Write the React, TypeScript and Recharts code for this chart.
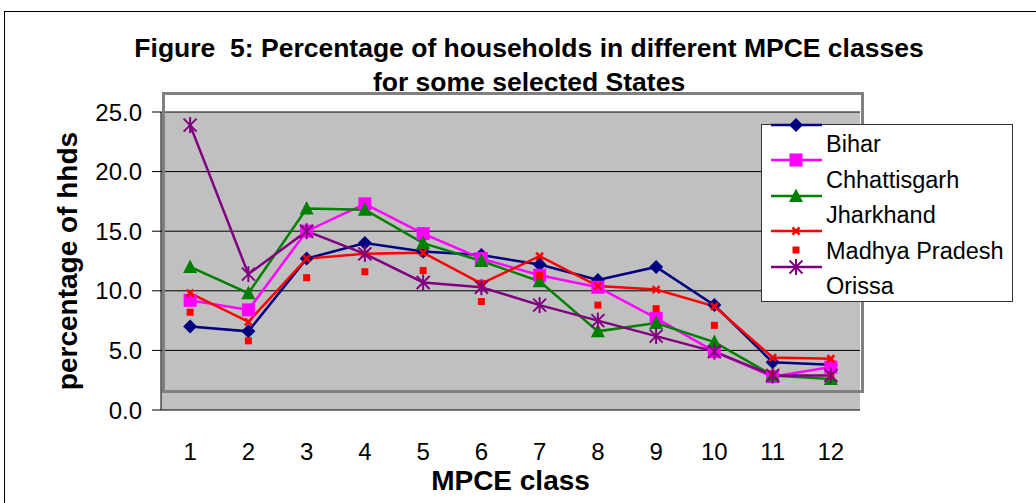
import React from 'react';
import {
  LineChart,
  Line,
  XAxis,
  YAxis,
  CartesianGrid,
  Legend,
} from 'recharts';

const classes = [1, 2, 3, 4, 5, 6, 7, 8, 9, 10, 11, 12];
const bihar = [7.0, 6.6, 12.7, 14.0, 13.3, 13.0, 12.2, 10.9, 12.0, 8.8, 4.0, 3.8];
const chhattisgarh = [9.2, 8.4, 15.0, 17.3, 14.8, 12.7, 11.3, 10.3, 7.7, 4.9, 2.8, 3.6];
const jharkhand = [12.0, 9.8, 16.9, 16.8, 14.0, 12.5, 10.8, 6.6, 7.3, 5.7, 2.9, 2.6];
const redLine = [9.8, 7.4, 12.7, 13.1, 13.2, 10.6, 12.9, 10.4, 10.1, 8.7, 4.4, 4.3];
const madhyaPradesh = [8.2, 5.8, 11.1, 11.6, 11.7, 9.1, 11.3, 8.8, 8.5, 7.1, 2.9, 2.9];
const orissa = [23.9, 11.4, 15.0, 13.1, 10.7, 10.3, 8.8, 7.5, 6.2, 4.9, 2.9, 2.9];
const yTicks = [0, 5, 10, 15, 20, 25];
const boundaryTicks = [0.5, 1.5, 2.5, 3.5, 4.5, 5.5, 6.5, 7.5, 8.5, 9.5, 10.5, 11.5, 12.5];
const legendLabels = ['Bihar', 'Chhattisgarh', 'Jharkhand', 'Madhya Pradesh', 'Orissa'];

const data = classes.map((c, i) => ({
  cls: c,
  bihar: bihar[i],
  chhattisgarh: chhattisgarh[i],
  jharkhand: jharkhand[i],
  redLine: redLine[i],
  madhyaPradesh: madhyaPradesh[i],
  orissa: orissa[i],
}));

const FONT = "'Liberation Sans', Arial, sans-serif";

type Shape = 'diamond' | 'square' | 'triangle' | 'cross' | 'dot' | 'asterisk';

function marker(shape: Shape, color: string, cx: number, cy: number, key?: string | number) {
  switch (shape) {
    case 'diamond':
      return (
        <path key={key} d={`M${cx},${cy - 7}L${cx + 7},${cy}L${cx},${cy + 7}L${cx - 7},${cy}Z`} fill={color} />
      );
    case 'square':
      return <rect key={key} x={cx - 6.5} y={cy - 6.5} width={13} height={13} fill={color} />;
    case 'triangle':
      return (
        <path key={key} d={`M${cx},${cy - 7.5}L${cx + 7},${cy + 6}L${cx - 7},${cy + 6}Z`} fill={color} />
      );
    case 'cross':
      return (
        <g key={key} stroke={color} strokeWidth={2.5}>
          <line x1={cx - 3.5} y1={cy - 3.5} x2={cx + 3.5} y2={cy + 3.5} />
          <line x1={cx - 3.5} y1={cy + 3.5} x2={cx + 3.5} y2={cy - 3.5} />
        </g>
      );
    case 'dot':
      return <rect key={key} x={cx - 3.5} y={cy - 3.5} width={7} height={7} fill={color} />;
    case 'asterisk':
      return (
        <g key={key} stroke={color} strokeWidth={2}>
          <line x1={cx - 6.5} y1={cy - 6.5} x2={cx + 6.5} y2={cy + 6.5} />
          <line x1={cx - 6.5} y1={cy + 6.5} x2={cx + 6.5} y2={cy - 6.5} />
          <line x1={cx} y1={cy - 8} x2={cx} y2={cy + 8} />
        </g>
      );
  }
}

const series: { key: string; color: string; shape: Shape; line: boolean; row: number }[] = [
  { key: 'bihar', color: '#000080', shape: 'diamond', line: true, row: 1 },
  { key: 'chhattisgarh', color: '#FF00FF', shape: 'square', line: true, row: 36 },
  { key: 'jharkhand', color: '#008000', shape: 'triangle', line: true, row: 72 },
  { key: 'redLine', color: '#FF0000', shape: 'cross', line: true, row: 107 },
  { key: 'madhyaPradesh', color: '#FF0000', shape: 'dot', line: false, row: 126 },
  { key: 'orissa', color: '#800080', shape: 'asterisk', line: true, row: 143 },
];

function LegendBox() {
  return (
    <svg width={252} height={178} style={{ overflow: 'visible', display: 'block' }}>
      <rect x={0.5} y={0.5} width={251} height={177} fill="#fff" stroke="#333" />
      {series.map((s) => (
        <g key={s.key}>
          {s.line && <line x1={10} x2={61} y1={s.row} y2={s.row} stroke={s.color} strokeWidth={2.5} />}
          {marker(s.shape, s.color, 35, s.row)}
        </g>
      ))}
      {legendLabels.map((l, i) => (
        <text key={l} x={65} y={20 + i * 35.5} dy="0.36em" fontSize={23.5} fontFamily={FONT} fill="#000">
          {l}
        </text>
      ))}
    </svg>
  );
}

export default function App() {
  return (
    <div style={{ position: 'absolute', left: 0, top: 0, width: 1036, height: 503, background: '#fff', overflow: 'hidden' }}>
      <div
        style={{
          position: 'absolute',
          left: 4,
          top: 11,
          width: 1040,
          height: 500,
          border: '1px solid #000',
        }}
      />
      <div
        style={{
          position: 'absolute',
          left: 0,
          width: 1058,
          top: 31,
          textAlign: 'center',
          fontFamily: FONT,
          fontWeight: 'bold',
          fontSize: 26.5,
          lineHeight: '34px',
        }}
      >
        Figure&nbsp; 5: Percentage of households in different MPCE classes
        <br />
        for some selected States
      </div>
      <div style={{ position: 'absolute', left: 0, top: 0 }}>
        <LineChart width={1036} height={503} data={data} margin={{ top: 112, right: 176, bottom: 0, left: 41 }}>
          <CartesianGrid fill="#C0C0C0" stroke="#000" vertical={false} />
          <XAxis
            xAxisId="ticks"
            dataKey="cls"
            type="number"
            domain={[0.5, 12.5]}
            ticks={boundaryTicks}
            tick={false}
            tickSize={10}
            height={0}
            stroke="#000"
            allowDataOverflow
          />
          <XAxis
            xAxisId="main"
            dataKey="cls"
            type="number"
            domain={[0.5, 12.5]}
            ticks={classes}
            tickLine={false}
            axisLine={false}
            tickSize={6}
            tickMargin={27}
            height={93}
            tick={{ fontSize: 24, fontFamily: FONT, fill: '#000' }}
            label={{
              value: 'MPCE class',
              position: 'insideBottom',
              offset: 13,
              style: { fontSize: 28, fontWeight: 'bold', fontFamily: FONT, fill: '#000' },
            }}
          />
          <YAxis
            domain={[0, 25]}
            ticks={yTicks}
            width={120}
            stroke="#000"
            tickSize={9}
            tickMargin={10}
            tickFormatter={(v: number) => v.toFixed(1)}
            tick={{ fontSize: 24, fontFamily: FONT, fill: '#000' }}
            label={{
              value: 'percentage of hhds',
              angle: -90,
              position: 'insideLeft',
              offset: 26,
              style: { textAnchor: 'middle', fontSize: 28, fontWeight: 'bold', fontFamily: FONT, fill: '#000' },
            }}
          />
          {series.map((s) => (
            <Line
              key={s.key}
              xAxisId="main"
              dataKey={s.key}
              type="linear"
              stroke={s.line ? s.color : 'none'}
              strokeWidth={2.5}
              isAnimationActive={false}
              dot={(p: any) => marker(s.shape, s.color, p.cx, p.cy, `${s.key}-${p.index}`)}
              activeDot={false}
            />
          ))}
          <Legend
            layout="horizontal"
            verticalAlign="middle"
            align="center"
            wrapperStyle={{ position: 'absolute', left: 761, top: 124, width: 252, height: 178, zIndex: 3 }}
            content={() => <LegendBox />}
          />
        </LineChart>
      </div>
      <div
        style={{
          position: 'absolute',
          left: 162,
          top: 92,
          width: 696,
          height: 295,
          border: '3px solid #808080',
          pointerEvents: 'none',
          zIndex: 2,
        }}
      />
    </div>
  );
}
